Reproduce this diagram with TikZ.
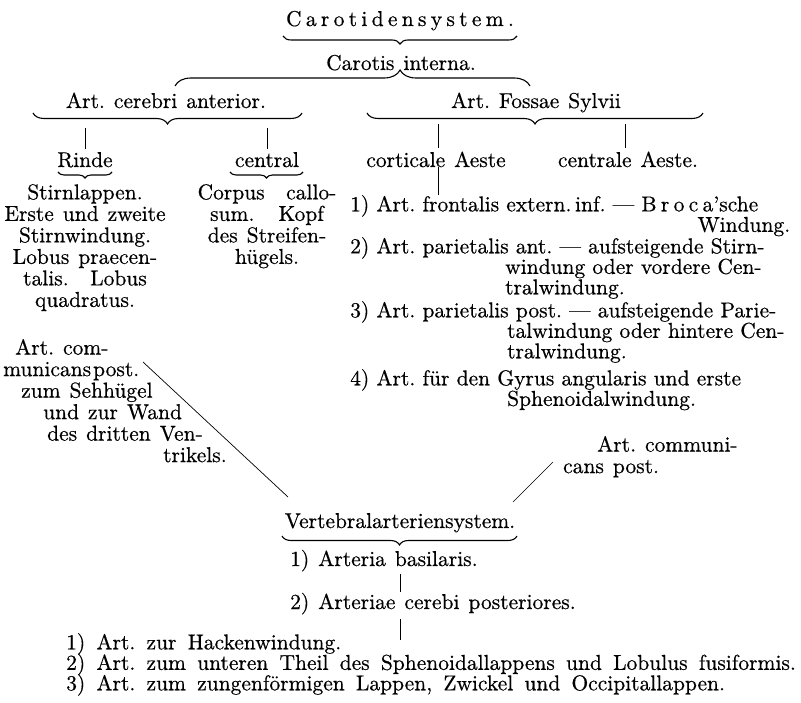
\documentclass[tikz,border=0pt]{standalone}
\usepackage{fontspec}
\setmainfont{lmroman10-regular.otf}[FakeBold=0.5,BoldFont=lmroman10-bold.otf,ItalicFont=lmroman10-italic.otf]
\usetikzlibrary{decorations.pathreplacing}

% gesperrt
\def\spaced#1{\spacedfirst#1\relax}
\def\spacedfirst#1{#1\spacedloop}
\def\spacedloop#1{\ifx#1\relax\else\kern\spacedkern#1\expandafter\spacedloop\fi}
\def\spacedkern{4.3pt}
\newcommand\jline[2]{\leavevmode\hbox to #1{#2}}
\newcommand\widespace{\frenchspacing\lineskiplimit -8pt\spaceskip 9pt plus 4pt minus 2pt\relax}
\newcommand\listspace{\frenchspacing\lineskiplimit -8pt\spaceskip 8pt plus 8pt minus 2.5pt\relax}
\newcommand\postspace{\frenchspacing\lineskiplimit -8pt\spaceskip 11.2pt plus 2pt minus 2pt\relax}

\begin{document}
\begin{tikzpicture}[x=1pt,y=-1pt,
    txt/.style={inner sep=0pt,anchor=base,
      font={\fontsize{21.5}{21.5}\selectfont\widespace}},
    listitem/.style={txt,anchor=north west,text width=440pt,align=left,
      font={\fontsize{21.5}{20.5}\selectfont\listspace}},
    ubrace/.style={decorate,decoration={brace,mirror,amplitude=#1},line width=1.1pt},
    obrace/.style={decorate,decoration={brace,amplitude=#1},line width=1.1pt},
    tickline/.style={line width=0.9pt},
    thinline/.style={line width=0.7pt}]
\useasboundingbox[fill=white] (0,0) rectangle (801,703);

% Carotidensystem
\node[txt] (carsys) at (400,26) {\spaced{Carotidensystem.}};
\draw[ubrace=8pt] (283,36) -- (517,36);
\node[txt] (carint) at (401,70) {Carotis interna.};
\draw[obrace=16pt,decoration={aspect=0.634}] (175,86) -- (530,86);

\node[txt] (aca) at (166,108) {Art. cerebri anterior.};
\node[txt] (afs) at (536,108) {Art. Fossae Sylvii};
\draw[ubrace=11pt] (33,113) -- (302,113);
\draw[ubrace=11pt] (367,113) -- (703,113);

% branches
\node[txt] (rinde) at (85,167) {Rinde};
\node[txt] (central) at (267,167) {central};
\node[txt] (cort) at (436,167) {corticale Aeste};
\node[txt] (centr) at (628,167) {centrale Aeste.};
\coordinate (t1) at (85,128);
\coordinate (t2) at (267,128);
\coordinate (t3) at (438,124);
\coordinate (t4) at (625,124);
\draw[tickline,shorten >=3pt] (t1) -- (t1 |- rinde.north);
\draw[tickline,shorten >=3pt] (t2) -- (t2 |- central.north);
\draw[tickline,shorten >=3pt] (t3) -- (t3 |- cort.north);
\draw[tickline,shorten >=3pt] (t4) -- (t4 |- centr.north);
\draw[ubrace=6pt] (58,172) -- (112,172);
\draw[ubrace=6pt] (230,172) -- (303,172);

\node[txt,align=center,anchor=north] (rindetxt) at (85,184)
  {Stirnlappen.\\Erste und zweite\\Stirnwindung.\\Lobus praecen-\\talis.\quad Lobus\\quadratus.};
\node[txt,align=center,anchor=north] (centraltxt) at (267,184)
  {Corpus\quad callo-\\sum.\hspace{24pt}Kopf\\des Streifen-\\hügels.};

% Aeste der Art. Fossae Sylvii
\node[listitem] (fs1) at (350,195)
  {\jline{440pt}{1) Art. frontalis extern.\,inf. --- \spaced{Broca}'sche}\\
   \hspace*{\fill}Windung.};
\node[listitem] (fs2) at (350,237)
  {\jline{440pt}{2) Art. parietalis ant. --- aufsteigende Stirn-}\\
   \hspace*{155pt}\jline{285pt}{windung oder vordere Cen-}\\
   \hspace*{155pt}tralwindung.};
\node[listitem] (fs3) at (350,301)
  {\jline{440pt}{3) Art. parietalis post. --- aufsteigende Parie-}\\
   \hspace*{157pt}\jline{283pt}{talwindung oder hintere Cen-}\\
   \hspace*{157pt}tralwindung.};
\node[listitem] (fs4) at (350,369)
  {\jline{435pt}{4) Art. für den Gyrus angularis und erste}\\
   \hspace*{157pt}Sphenoidalwindung.};
\draw[tickline] (cort.south -| t3) -- (t3 |- fs1.north);

% Art. communicans post.
\node[txt,anchor=north west,align=left] (commL) at (3,339)
  {\hspace*{12pt}Art.\ com-\\municans\kern2pt post.\\\hspace*{18pt}zum Sehhügel\\
   \hspace*{40pt}und zur Wand\\\hspace*{44pt}des dritten Ven-\\\hspace*{160pt}trikels.};
\node[txt,anchor=north west,align=left] (commR) at (563,436)
  {\hspace*{34pt}Art.\ communi-\\cans post.};
\coordinate (cl1) at (143,362);
\coordinate (cl2) at (288,497);
\coordinate (cr1) at (553,462);
\coordinate (cr2) at (513,502);
\draw[thinline] (cl1) -- (cl2);
\draw[thinline,line width=0.5pt] (cr1) -- (cr2);

% Vertebralarteriensystem
\node[txt] (vert) at (400,528) {Vertebralarteriensystem.};
\draw[ubrace=9pt] (282,536) -- (517,536);
\node[txt,anchor=base west] (basil) at (290,566) {1) Arteria basilaris.};
\node[txt,anchor=base west] (arter) at (290,609) {2) Arteriae cerebi posteriores.};
\coordinate (bt) at (400,640);
\draw[tickline,shorten <=2pt,shorten >=1pt] (basil.south -| bt) -- (arter.north -| bt);
\draw[tickline,shorten <=4pt] (arter.south -| bt) -- (bt);

\node[txt,anchor=north west,align=left,font={\fontsize{21.5}{20.5}\selectfont\postspace}] (post) at (66,633)
  {1) Art. zur Hackenwindung.\\
   2) Art. zum unteren Theil des Sphenoidallappens und Lobulus fusiformis.\\
   3) Art. zum zungenförmigen Lappen, Zwickel und Occipitallappen.};
\end{tikzpicture}
\end{document}
